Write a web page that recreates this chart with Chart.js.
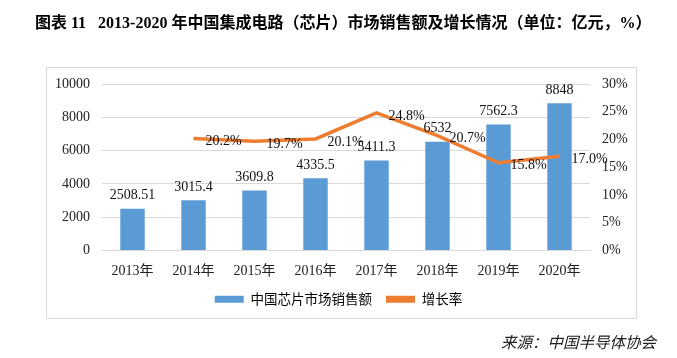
<!DOCTYPE html>
<html><head><meta charset="utf-8">
<script src="https://cdn.jsdelivr.net/npm/chart.js@4/dist/chart.umd.min.js"></script>
<style>html,body{margin:0;padding:0;background:#fff;}#wrap{position:relative;width:677px;height:358px;}</style>
</head><body><div id="wrap"><canvas id="c" width="677" height="358"></canvas></div>
<script>
const categories = ['2013年','2014年','2015年','2016年','2017年','2018年','2019年','2020年'];
const salesValues = [2508.51, 3015.4, 3609.8, 4335.5, 5411.3, 6532, 7562.3, 8848];
const salesLabels = ['2508.51','3015.4','3609.8','4335.5','5411.3','6532','7562.3','8848'];
const growthValues = [null, 20.2, 19.7, 20.1, 24.8, 20.7, 15.8, 17.0];
const seriesNames = ['中国芯片市场销售额','增长率'];
const titleText = '图表 11   2013-2020 年中国集成电路（芯片）市场销售额及增长情况（单位：亿元，%）';
const sourceText = '来源：中国半导体协会';

const SERIF = "'Liberation Serif','Noto Sans CJK SC',serif";
const CJK = "'Noto Sans CJK SC','Liberation Serif',sans-serif";

const decor = {
  id: 'decor',
  beforeDraw(chart) {
    const ctx = chart.ctx;
    ctx.save();
    ctx.fillStyle = '#fff';
    ctx.fillRect(0,0,chart.width,chart.height);
    ctx.strokeStyle = '#D9D9D9';
    ctx.lineWidth = 1;
    ctx.strokeRect(46.5, 67.5, 590, 251);
    ctx.fillStyle = '#000';
    ctx.font = "bold 16px " + SERIF;
    ctx.textBaseline = 'middle';
    ctx.textAlign = 'left';
    ctx.fillText(titleText, 35, 24);
    ctx.font = "italic 15.5px " + CJK;
    ctx.fillStyle = '#222';
    ctx.textAlign = 'right';
    ctx.fillText(sourceText, 656, 342);
    ctx.restore();
  },
  afterDatasetsDraw(chart) {
    const ctx = chart.ctx;
    ctx.save();
    ctx.font = "14px " + SERIF;
    ctx.fillStyle = '#111';
    ctx.textBaseline = 'middle';
    ctx.textAlign = 'center';
    const m0 = chart.getDatasetMeta(0);
    m0.data.forEach((el, i) => {
      ctx.fillText(salesLabels[i], el.x, el.y - 13);
    });
    const m1 = chart.getDatasetMeta(1);
    m1.data.forEach((el, i) => {
      const v = growthValues[i];
      if (v == null) return;
      ctx.fillText(v.toFixed(1) + '%', el.x + 30, el.y + 3);
    });
    ctx.restore();
  }
};

new Chart(document.getElementById('c'), {
  data: {
    labels: categories,
    datasets: [
      { type: 'bar', label: seriesNames[0], data: salesValues, backgroundColor: '#5B9BD5',
        yAxisID: 'y', barPercentage: 0.4, categoryPercentage: 1.0, order: 2 },
      { type: 'line', label: seriesNames[1], data: growthValues, borderColor: '#ED7D31',
        backgroundColor: '#ED7D31', borderWidth: 3.5, pointRadius: 0, tension: 0,
        yAxisID: 'y1', order: 1 }
    ]
  },
  options: {
    responsive: false,
    animation: false,
    devicePixelRatio: 1,
    layout: { padding: { top: 84, bottom: 42, left: 0, right: 0 } },
    plugins: {
      legend: {
        position: 'bottom',
        labels: {
          font: { family: CJK, size: 13.5 },
          color: '#333',
          boxWidth: 29, boxHeight: 7,
          padding: 14,
          generateLabels(chart) {
            return chart.data.datasets.map((d, i) => ({
              text: d.label, fillStyle: d.backgroundColor, strokeStyle: d.backgroundColor,
              lineWidth: 0, datasetIndex: i, hidden: false
            }));
          }
        }
      },
      tooltip: { enabled: false }
    },
    scales: {
      x: {
        grid: { display: false },
        border: { display: true, color: '#D9D9D9' },
        ticks: { font: { family: SERIF, size: 14 }, color: '#222', padding: 4 },
        afterFit(s) { s.height = 28; }
      },
      y: {
        position: 'left', min: 0, max: 10000,
        ticks: { stepSize: 2000, font: { family: SERIF, size: 14 }, color: '#222', padding: 12,
          callback: v => String(v) },
        grid: { color: '#D9D9D9', drawTicks: false },
        border: { display: false },
        afterFit(s) { s.width = 102; }
      },
      y1: {
        position: 'right', min: 0, max: 30,
        ticks: { stepSize: 5, font: { family: SERIF, size: 14 }, color: '#222', padding: 12,
          callback: v => v + '%' },
        grid: { display: false, drawTicks: false },
        border: { display: false },
        afterFit(s) { s.width = 87; }
      }
    }
  },
  plugins: [decor]
});
</script></body></html>
